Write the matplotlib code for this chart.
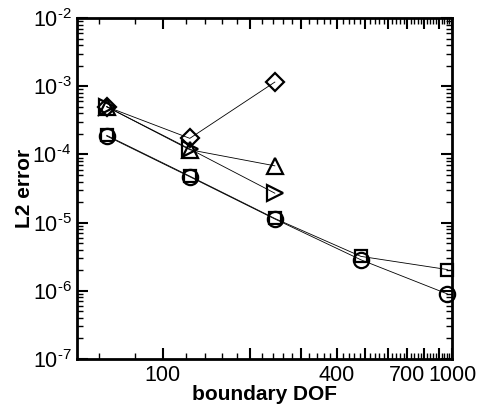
import matplotlib
matplotlib.use("Agg")
import matplotlib.pyplot as plt
from matplotlib.ticker import FixedLocator, FixedFormatter, LogLocator, NullFormatter

plt.rcParams['font.family'] = ['Liberation Sans', 'DejaVu Sans']
plt.rcParams['mathtext.fontset'] = 'custom'
plt.rcParams['mathtext.rm'] = 'Liberation Sans'
plt.rcParams['mathtext.it'] = 'Liberation Sans'
plt.rcParams['mathtext.bf'] = 'Liberation Sans:bold'

dof = [64, 124, 244, 484, 964]
err_square = [1.9e-4, 4.8e-5, 1.15e-5, 3.2e-6, 2.05e-6]
err_circle = [1.86e-4, 4.7e-5, 1.13e-5, 2.85e-6, 9.0e-7]
dof3 = [64, 124, 244]
err_diamond = [5.0e-4, 1.72e-4, 1.15e-3]
err_tri_up = [5.0e-4, 1.17e-4, 6.8e-5]
err_tri_right = [5.0e-4, 1.2e-4, 2.7e-5]

xmajor = [100, 200, 300, 400, 500, 600, 700, 800, 900, 1000]
xlabels = ['100', '', '', '400', '', '', '700', '', '', '1000']
xminor = [v for v in range(60, 1001, 20) if v % 100 != 0]
yticks = [1e-7, 1e-6, 1e-5, 1e-4, 1e-3, 1e-2]
ylabels = ['$10^{\u2010 7}$', '$10^{\u2010 6}$', '$10^{\u2010 5}$',
           '$10^{\u2010 4}$', '$10^{\u2010 3}$', '$10^{\u2010 2}$']

fig = plt.figure(figsize=(4.8, 4.09), dpi=100)
ax = fig.add_axes([0.1604, 0.1222, 0.7813, 0.8338])
ax.set_xscale('log')
ax.set_yscale('log')

mk = dict(color='black', linewidth=0.6, markerfacecolor='none',
          markeredgecolor='black', markeredgewidth=1.6, clip_on=False)
ax.plot(dof, err_square, marker='s', markersize=9, **mk)
ax.plot(dof, err_circle, marker='o', markersize=11, **mk)
ax.plot(dof3, err_diamond, marker='D', markersize=9, **mk)
ax.plot(dof3, err_tri_up, marker='^', markersize=11, **mk)
ax.plot(dof3, err_tri_right, marker='>', markersize=11, **mk)

ax.set_xlim(50.5, 1000)
ax.set_ylim(1e-7, 1e-2)

ax.xaxis.set_major_locator(FixedLocator(xmajor))
ax.xaxis.set_major_formatter(FixedFormatter(xlabels))
ax.xaxis.set_minor_locator(FixedLocator(xminor))
ax.xaxis.set_minor_formatter(NullFormatter())
ax.yaxis.set_major_locator(FixedLocator(yticks))
ax.yaxis.set_major_formatter(FixedFormatter(ylabels))
ax.yaxis.set_minor_locator(LogLocator(base=10, subs=range(2, 10), numticks=20))
ax.yaxis.set_minor_formatter(NullFormatter())

ax.tick_params(which='both', direction='in', top=True, right=True)
ax.tick_params(which='major', length=8, width=1.5, labelsize=15.5, pad=4)
ax.tick_params(which='minor', length=4, width=1.0)
for s in ax.spines.values():
    s.set_linewidth(2)

ax.set_xlabel('boundary DOF', fontsize=15, fontweight='bold')
ax.set_ylabel('L2 error', fontsize=15, fontweight='bold')
ax.xaxis.set_label_coords(0.5, -0.076)
ax.yaxis.set_label_coords(-0.115, 0.5)

fig.savefig('out.png', dpi=100)
